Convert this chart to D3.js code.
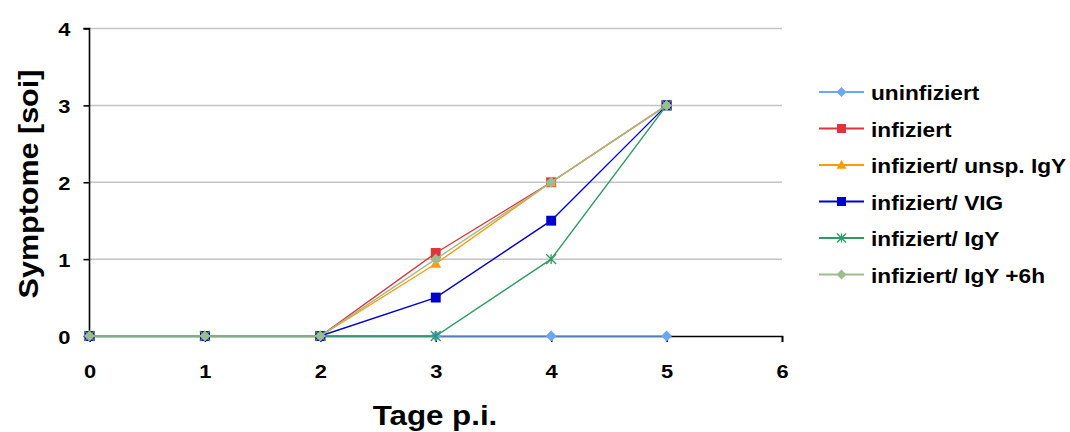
<!DOCTYPE html>
<html><head><meta charset="utf-8">
<script src="https://cdn.jsdelivr.net/npm/d3@7"></script>
<style>body{margin:0;background:#fff}svg{display:block}</style>
</head><body>
<svg id="c" width="1070" height="432"></svg>
<script>
const days = [0, 1, 2, 3, 4, 5];
const seriesNames = ["uninfiziert", "infiziert", "infiziert/ unsp. IgY", "infiziert/ VIG", "infiziert/ IgY", "infiziert/ IgY +6h"];
const uninfiziert = [0, 0, 0, 0, 0, 0];
const infiziert = [0, 0, 0, 1.08, 2, 3];
const unspIgY = [0, 0, 0, 0.94, 2, 3];
const vig = [0, 0, 0, 0.5, 1.5, 3];
const igY = [0, 0, 0, 0, 1, 3];
const igY6h = [0, 0, 0, 1, 2, 3];
const xTicks = [0, 1, 2, 3, 4, 5, 6];
const yTicks = [0, 1, 2, 3, 4];
const colors = ["#6aa8f4", "#e0343c", "#ff9a10", "#0000cc", "#2f9a62", "#9dbd8e"];
const markers = ["diamond", "square", "triangle", "square", "star", "diamond"];
const allValues = [uninfiziert, infiziert, unspIgY, vig, igY, igY6h];

const svg = d3.select("#c");
const x = d3.scaleLinear().domain([0, 6]).range([89.5, 782]);
const y = d3.scaleLinear().domain([0, 4]).range([336, 28.5]);
const font = "'Liberation Sans', Arial, sans-serif";

function styled(t, size) {
  return t.attr("font-family", font).attr("font-weight", "bold").attr("font-size", size).attr("fill", "#000");
}

// gridlines
svg.append("g").selectAll("line").data(yTicks.filter(d => d > 0)).join("line")
  .attr("x1", x(0)).attr("x2", x(6)).attr("y1", d => y(d)).attr("y2", d => y(d))
  .attr("stroke", "#c4c4c4").attr("stroke-width", 1.5);

// axes
const yAxis = svg.append("g").attr("transform", `translate(${x(0)},0)`)
  .call(d3.axisLeft(y).tickValues(yTicks).tickSize(6).tickPadding(8).tickFormat(d3.format("d")));
const xAxis = svg.append("g").attr("transform", `translate(0,${y(0)})`)
  .call(d3.axisBottom(x).tickValues(xTicks).tickSize(6).tickPadding(14).tickFormat(d3.format("d")));
[yAxis, xAxis].forEach(a => {
  a.select(".domain").attr("stroke", "#000").attr("stroke-width", 1.6);
  a.selectAll(".tick line").attr("stroke", "#000").attr("stroke-width", 1.6);
  styled(a.selectAll("text"), 19);
});
yAxis.select(".domain").attr("d", `M-6,${y(4)}H0V${y(0)}`);
const sx = 1.15;
yAxis.selectAll(".tick text").attr("x", null).attr("dy", null).attr("y", 7)
  .attr("transform", `translate(-19,0) scale(${sx},1)`);
xAxis.selectAll(".tick text").attr("dy", null).attr("y", null)
  .attr("transform", `translate(0,42) scale(${sx},1)`);

// axis titles
styled(svg.append("text"), 28).attr("transform", `translate(38,${184}) rotate(-90) scale(1.09,1)`)
  .attr("text-anchor", "middle").text("Symptome [soi]");
styled(svg.append("text"), 27).attr("transform", `translate(435,425) scale(1.16,1)`)
  .attr("text-anchor", "middle").text("Tage p.i.");

function marker(g, type, color, cx, cy, s) {
  if (type === "diamond") {
    g.append("path").attr("d", `M${cx},${cy-s}L${cx+s},${cy}L${cx},${cy+s}L${cx-s},${cy}Z`).attr("fill", color);
  } else if (type === "square") {
    g.append("rect").attr("x", cx - s*0.9).attr("y", cy - s*0.9).attr("width", s*1.8).attr("height", s*1.8).attr("fill", color);
  } else if (type === "triangle") {
    g.append("path").attr("d", `M${cx},${cy-s}L${cx+s},${cy+s*0.75}L${cx-s},${cy+s*0.75}Z`).attr("fill", color);
  } else if (type === "star") {
    const r = s * 0.9;
    g.append("path").attr("d", `M${cx-r},${cy-r}L${cx+r},${cy+r}M${cx-r},${cy+r}L${cx+r},${cy-r}M${cx},${cy-r}V${cy+r}`)
      .attr("stroke", color).attr("stroke-width", 1.3).attr("fill", "none");
  }
}

const line = d3.line().x((d, i) => x(days[i])).y(d => y(d));
allValues.forEach((vals, k) => {
  const g = svg.append("g");
  g.append("path").datum(vals).attr("d", line).attr("fill", "none")
    .attr("stroke", colors[k]).attr("stroke-width", 1.4);
  vals.forEach((v, i) => marker(g, markers[k], colors[k], x(days[i]), y(v), 5.5));
});

// legend
const lg = svg.append("g");
seriesNames.forEach((name, k) => {
  const cy = 92 + k * 36.5;
  lg.append("line").attr("x1", 819).attr("x2", 864).attr("y1", cy).attr("y2", cy)
    .attr("stroke", colors[k]).attr("stroke-width", 2);
  marker(lg, markers[k], colors[k], 841.5, cy, 5);
  styled(lg.append("text"), 21).attr("transform", `translate(871,${cy + 8}) scale(1.08,1)`).text(name);
});
</script>
</body></html>
